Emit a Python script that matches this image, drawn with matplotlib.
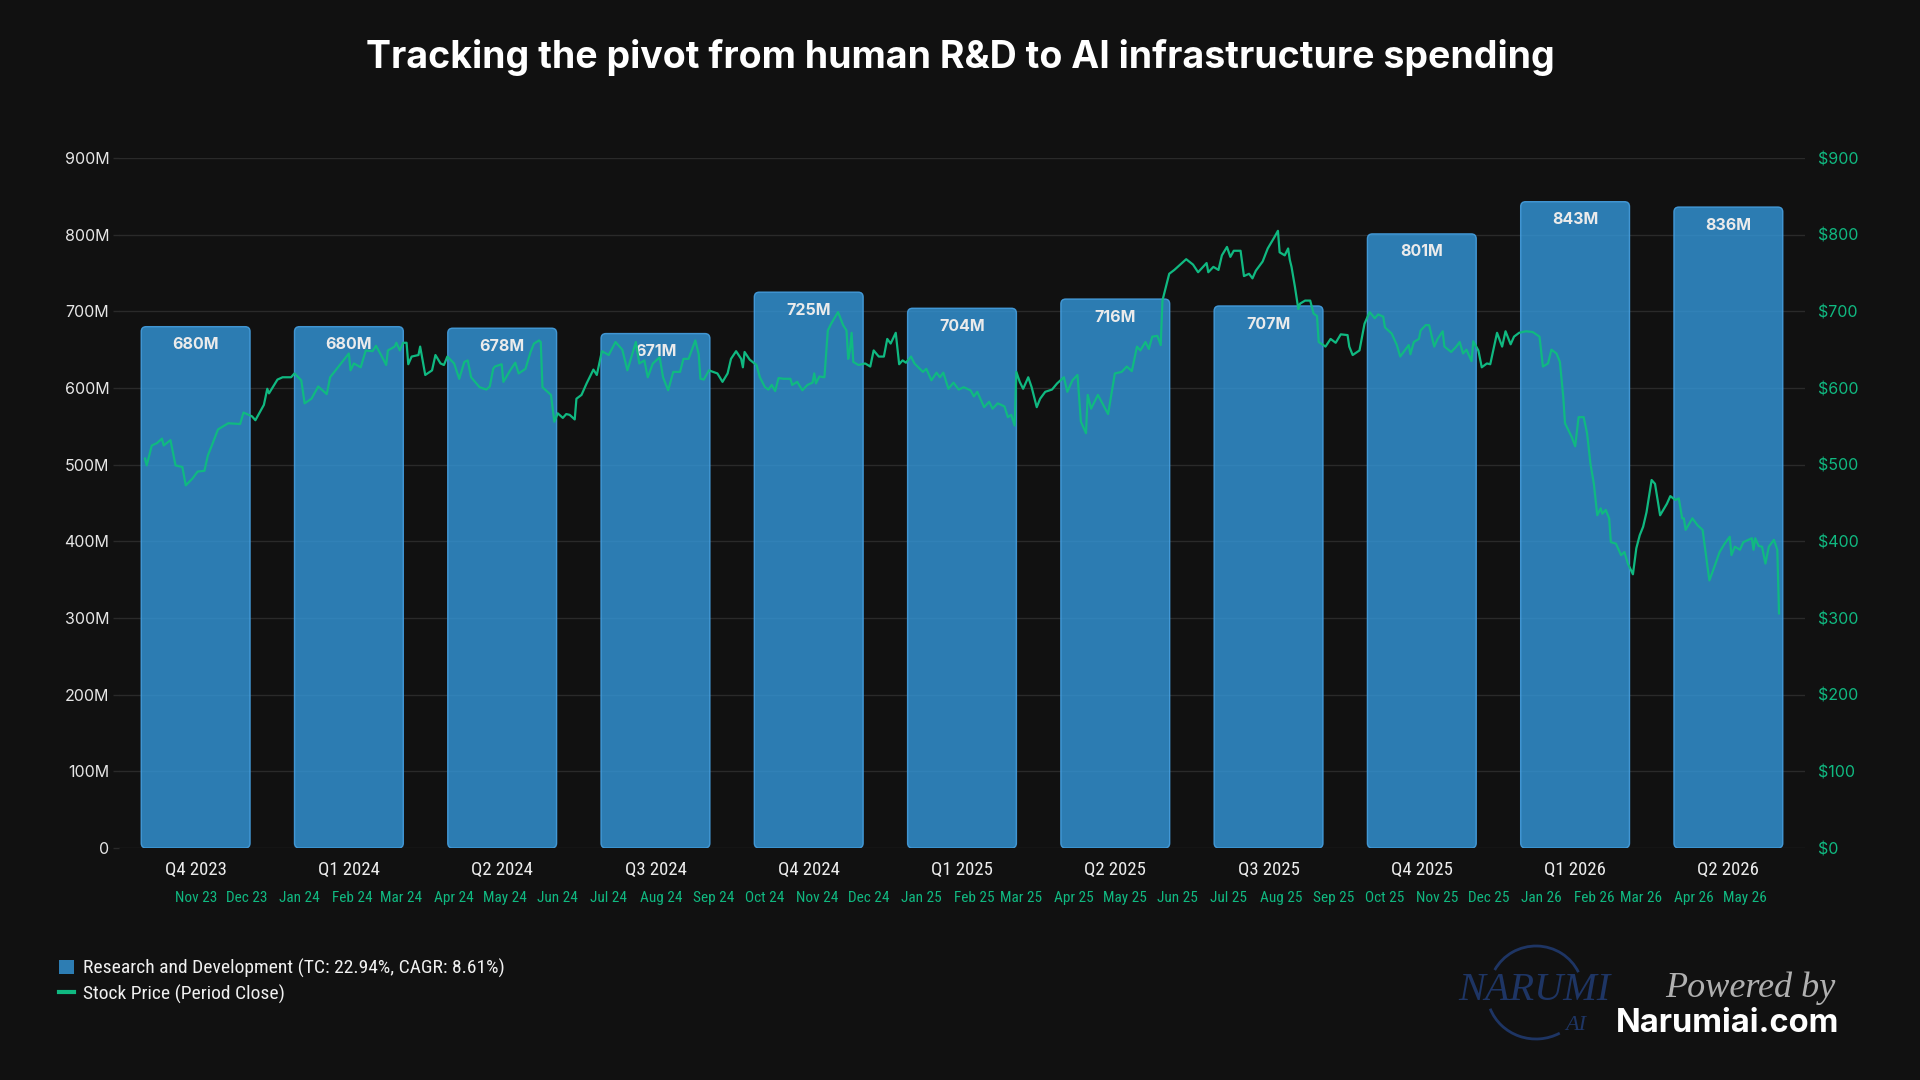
import matplotlib
matplotlib.use("Agg")
import matplotlib.pyplot as plt
import matplotlib.dates as mdates
from matplotlib import font_manager
from matplotlib.patches import FancyBboxPatch, Arc, Rectangle
from matplotlib.lines import Line2D
from matplotlib.ticker import FuncFormatter, MultipleLocator
import pandas as pd

# R&D expense per quarter (millions)
quarters = ["Q4 2023", "Q1 2024", "Q2 2024", "Q3 2024", "Q4 2024", "Q1 2025",
            "Q2 2025", "Q3 2025", "Q4 2025", "Q1 2026", "Q2 2026"]
rd_values = [680, 680, 678, 671, 725, 704, 716, 707, 801, 843, 836]

# stock price
stock_dates = [
    "2023-10-02", "2023-10-03", "2023-10-06", "2023-10-09", "2023-10-12", "2023-10-13",
    "2023-10-17", "2023-10-20", "2023-10-24", "2023-10-26", "2023-10-30", "2023-11-02",
    "2023-11-06", "2023-11-08", "2023-11-10", "2023-11-14", "2023-11-20", "2023-11-27",
    "2023-11-29", "2023-12-04", "2023-12-06", "2023-12-11", "2023-12-13", "2023-12-14",
    "2023-12-19", "2023-12-22", "2023-12-27", "2023-12-29",
    "2024-01-02", "2024-01-04", "2024-01-08", "2024-01-12", "2024-01-17", "2024-01-19",
    "2024-01-24", "2024-01-30", "2024-01-31", "2024-02-02", "2024-02-06", "2024-02-09",
    "2024-02-13", "2024-02-15", "2024-02-18", "2024-02-21", "2024-02-22", "2024-02-26",
    "2024-02-27", "2024-02-29", "2024-03-02", "2024-03-04", "2024-03-05", "2024-03-07",
    "2024-03-11", "2024-03-12", "2024-03-15", "2024-03-19", "2024-03-21", "2024-03-24",
    "2024-03-26", "2024-03-28", "2024-04-01", "2024-04-04", "2024-04-07", "2024-04-09",
    "2024-04-11", "2024-04-16", "2024-04-20", "2024-04-22", "2024-04-24", "2024-04-25",
    "2024-04-29", "2024-04-30", "2024-05-04", "2024-05-07", "2024-05-09", "2024-05-13",
    "2024-05-16", "2024-05-18", "2024-05-21", "2024-05-22", "2024-05-23", "2024-05-28",
    "2024-05-30", "2024-06-01", "2024-06-04", "2024-06-06", "2024-06-08", "2024-06-11",
    "2024-06-12", "2024-06-15", "2024-06-18", "2024-06-22", "2024-06-24", "2024-06-27",
    "2024-07-01", "2024-07-05", "2024-07-09", "2024-07-12", "2024-07-14", "2024-07-17",
    "2024-07-19", "2024-07-22", "2024-07-24", "2024-07-27", "2024-07-31", "2024-08-02",
    "2024-08-05", "2024-08-08", "2024-08-12", "2024-08-14", "2024-08-17", "2024-08-21",
    "2024-08-23", "2024-08-24", "2024-08-26", "2024-08-29", "2024-09-03", "2024-09-06",
    "2024-09-09", "2024-09-11", "2024-09-14", "2024-09-17", "2024-09-18", "2024-09-19",
    "2024-09-22", "2024-09-26", "2024-09-28", "2024-10-01", "2024-10-03", "2024-10-05",
    "2024-10-07", "2024-10-09", "2024-10-12", "2024-10-16", "2024-10-17", "2024-10-20",
    "2024-10-23", "2024-10-26", "2024-10-29", "2024-10-30", "2024-10-31", "2024-11-02",
    "2024-11-05", "2024-11-07", "2024-11-09", "2024-11-13", "2024-11-16", "2024-11-18",
    "2024-11-19", "2024-11-20", "2024-11-21", "2024-11-22", "2024-11-25", "2024-11-29",
    "2024-12-02", "2024-12-04", "2024-12-07", "2024-12-10", "2024-12-12", "2024-12-14",
    "2024-12-17", "2024-12-19", "2024-12-21", "2024-12-23", "2024-12-26", "2024-12-28",
    "2025-01-02", "2025-01-04", "2025-01-07", "2025-01-10", "2025-01-12", "2025-01-14",
    "2025-01-17", "2025-01-20", "2025-01-23", "2025-01-26", "2025-01-30", "2025-02-01",
    "2025-02-03", "2025-02-07", "2025-02-10", "2025-02-12", "2025-02-15", "2025-02-19",
    "2025-02-21", "2025-02-23", "2025-02-25", "2025-02-26", "2025-02-28", "2025-03-02",
    "2025-03-05", "2025-03-07", "2025-03-10", "2025-03-12", "2025-03-15", "2025-03-19",
    "2025-03-22", "2025-03-26", "2025-03-28", "2025-03-31", "2025-04-03", "2025-04-05",
    "2025-04-08", "2025-04-09", "2025-04-11", "2025-04-15", "2025-04-21", "2025-04-25",
    "2025-04-29", "2025-05-02", "2025-05-05", "2025-05-08", "2025-05-10", "2025-05-13",
    "2025-05-15", "2025-05-17", "2025-05-20", "2025-05-22", "2025-05-23", "2025-05-27",
    "2025-05-30", "2025-06-03", "2025-06-06", "2025-06-10", "2025-06-13", "2025-06-18",
    "2025-06-19", "2025-06-22", "2025-06-25", "2025-06-27", "2025-06-30", "2025-07-02",
    "2025-07-04", "2025-07-08", "2025-07-10", "2025-07-13", "2025-07-15", "2025-07-17",
    "2025-07-21", "2025-07-24", "2025-07-28", "2025-07-30", "2025-07-31", "2025-08-03",
    "2025-08-05", "2025-08-06", "2025-08-07", "2025-08-09", "2025-08-11", "2025-08-12",
    "2025-08-15", "2025-08-18", "2025-08-20", "2025-08-22", "2025-08-23", "2025-08-27",
    "2025-08-30", "2025-09-02", "2025-09-05", "2025-09-09", "2025-09-10", "2025-09-12",
    "2025-09-16", "2025-09-19", "2025-09-22", "2025-09-25", "2025-09-27", "2025-09-30",
    "2025-10-01", "2025-10-05", "2025-10-08", "2025-10-10", "2025-10-13", "2025-10-15",
    "2025-10-16", "2025-10-18", "2025-10-21", "2025-10-22", "2025-10-25", "2025-10-27",
    "2025-10-30", "2025-11-01", "2025-11-04", "2025-11-05", "2025-11-09", "2025-11-12",
    "2025-11-14", "2025-11-16", "2025-11-18", "2025-11-21", "2025-11-22", "2025-11-25",
    "2025-11-27", "2025-11-30", "2025-12-02", "2025-12-06", "2025-12-09", "2025-12-11",
    "2025-12-14", "2025-12-16", "2025-12-19", "2025-12-23", "2025-12-27", "2025-12-31",
    "2026-01-02", "2026-01-05", "2026-01-07", "2026-01-10", "2026-01-12", "2026-01-14",
    "2026-01-15", "2026-01-19", "2026-01-21", "2026-01-23", "2026-01-26", "2026-01-28",
    "2026-01-30", "2026-02-01", "2026-02-03", "2026-02-05", "2026-02-06", "2026-02-08",
    "2026-02-10", "2026-02-11", "2026-02-14", "2026-02-17", "2026-02-19", "2026-02-21",
    "2026-02-24", "2026-02-26", "2026-02-28", "2026-03-02", "2026-03-04", "2026-03-07",
    "2026-03-09", "2026-03-12", "2026-03-16", "2026-03-18", "2026-03-21", "2026-03-23",
    "2026-03-25", "2026-03-26", "2026-03-27", "2026-03-31", "2026-04-03", "2026-04-06",
    "2026-04-10", "2026-04-13", "2026-04-16", "2026-04-19", "2026-04-22", "2026-04-23",
    "2026-04-25", "2026-04-28", "2026-04-30", "2026-05-03", "2026-05-05", "2026-05-06",
    "2026-05-07", "2026-05-09", "2026-05-11", "2026-05-13", "2026-05-15", "2026-05-17",
    "2026-05-18", "2026-05-20", "2026-05-21",
]
stock_prices = [
    508, 499, 525, 528, 534, 525, 532, 499, 497, 473, 482, 491,
    492, 512, 523, 546, 554, 553, 568, 563, 558, 578, 599, 593,
    611, 614, 614, 619,
    610, 580, 586, 602, 592, 614, 628, 645, 623, 632, 627, 649,
    648, 655, 643, 630, 649, 654, 659, 649, 659, 659, 631, 641,
    643, 654, 617, 623, 643, 632, 630, 641, 632, 612, 634, 636,
    614, 601, 598, 602, 625, 628, 631, 608, 623, 633, 619, 625,
    647, 658, 662, 660, 601, 591, 556, 567, 561, 566, 565, 559,
    586, 591, 606, 624, 617, 648, 643, 660, 650, 623, 638, 660,
    632, 636, 614, 632, 640, 614, 597, 621, 621, 638, 638, 662,
    644, 612, 611, 623, 619, 608, 619, 638, 648, 638, 627, 647,
    637, 630, 614, 601, 598, 604, 596, 613, 612, 612, 604, 608,
    597, 604, 607, 619, 606, 615, 614, 675, 684, 699, 682, 675,
    638, 649, 672, 634, 630, 632, 628, 649, 641, 641, 664, 658,
    672, 631, 636, 633, 641, 632,
    621, 625, 610, 620, 614, 620, 599, 607, 598, 601, 597, 589,
    595, 575, 582, 573, 580, 576, 562, 565, 551, 621, 608, 599,
    614, 601, 575, 586, 595, 598, 606, 614, 595, 610, 617, 556,
    541, 591, 573, 591, 566, 619, 621, 628, 622, 654, 649, 660,
    651, 667, 668, 656, 714, 749, 754, 762, 768, 761, 751, 763,
    751, 758, 754, 773, 784, 771, 779, 779, 746, 749, 743, 753,
    765, 782, 797, 805, 777, 773, 782, 767, 758, 732, 703, 710,
    714, 714, 697, 694, 660, 654, 664, 659, 670, 669, 654, 643,
    649, 684, 699, 691, 696, 693, 679, 671, 656, 641, 650, 656,
    644, 660, 664, 675, 682, 682, 654, 664, 674, 654, 647, 654,
    660, 645, 650, 635, 661, 649, 627, 632, 631, 672, 654, 674,
    657, 667, 672, 674, 673, 667,
    628, 632, 650, 645, 634, 588, 554, 536, 524, 562, 562, 541,
    501, 475, 434, 443, 436, 441, 430, 399, 397, 382, 386, 371,
    357, 391, 408, 419, 438, 480, 475, 434, 449, 459, 454, 456,
    430, 430, 415, 430, 421, 415, 349, 367, 386, 397, 406, 382,
    393, 389, 399, 402, 404, 389, 404, 394, 393, 371, 393, 399,
    402, 389, 306,
]
month_ticks = pd.date_range("2023-11-01", "2026-05-01", freq="MS")

title = "Tracking the pivot from human R&D to AI infrastructure spending"
legend_labels = ["Research and Development (TC: 22.94%, CAGR: 8.61%)",
                 "Stock Price (Period Close)"]

installed = {f.name for f in font_manager.fontManager.ttflist}


def pick(*names):
    for n in names:
        if n in installed:
            return n
    return "DejaVu Sans"


UI = pick("Inter", "Roboto", "Liberation Sans")
NARROW = pick("Liberation Sans Narrow", "Roboto Condensed", "Liberation Sans")
SERIF = pick("Liberation Serif", "DejaVu Serif")
plt.rcParams["font.family"] = [UI, "DejaVu Sans"]

BG = "#111111"
GRID = "#2a2a2a"
BAR = (52 / 255, 152 / 255, 219 / 255, 0.8)
BAR_EDGE = (70 / 255, 160 / 255, 225 / 255, 0.9)
GREEN = "#10b981"

fig = plt.figure(figsize=(19.2, 10.8), dpi=100, facecolor=BG)
pos = [119 / 1920, 1 - 848 / 1080, (1805 - 119) / 1920, (848 - 158) / 1080]

# bars + left axis
ax = fig.add_axes(pos)
ax.set_facecolor(BG)
xs = list(range(len(quarters)))
ax.set_xlim(-0.5, len(quarters) - 0.5)
ax.set_ylim(0, 900)
ax.yaxis.set_major_locator(MultipleLocator(100))
ax.yaxis.set_major_formatter(FuncFormatter(lambda v, _: "0" if v == 0 else f"{v:.0f}M"))
ax.grid(axis="y", color=GRID, linewidth=1)
ax.set_axisbelow(True)
for s in ax.spines.values():
    s.set_visible(False)
ax.tick_params(axis="y", color=GRID, labelcolor="#e6e6e6", length=4, width=1, pad=3, labelsize=11.5)
ax.tick_params(axis="x", length=0, pad=9, labelcolor="#ececec", labelsize=13.5)
ax.set_xticks(xs)
ax.set_xticklabels(quarters, fontfamily=NARROW)

bars = ax.bar(xs, rd_values, width=0.71, color=BAR, zorder=2)
bb = ax.get_window_extent()
aspect = (bb.width / len(quarters)) / (bb.height / 900)
for r in bars:
    p = FancyBboxPatch((r.get_x(), r.get_y()), r.get_width(), r.get_height(),
                       boxstyle="round,pad=0,rounding_size=0.032", mutation_aspect=aspect,
                       facecolor=BAR, edgecolor=BAR_EDGE, linewidth=1, zorder=2)
    r.remove()
    ax.add_patch(p)
for i, v in zip(xs, rd_values):
    ax.annotate(f"{v}M", (i, v), xytext=(0, -13), textcoords="offset points",
                ha="center", va="center", color="#ebebeb", fontsize=11.5,
                fontweight="bold", zorder=5)

# stock line on its own date axis + right axis
axl = fig.add_axes(pos, facecolor="none")
axl.plot(pd.to_datetime(stock_dates), stock_prices, color=GREEN, linewidth=1.6, zorder=3)
ref = mdates.date2num(pd.Timestamp("2023-11-01"))
axl.set_xlim(ref - 45.3, ref + 947.3)
axl.set_ylim(0, 900)
axl.yaxis.tick_right()
axl.yaxis.set_major_locator(MultipleLocator(100))
axl.yaxis.set_major_formatter(FuncFormatter(lambda v, _: f"${v:.0f}"))
axl.tick_params(axis="y", length=0, pad=9, labelcolor=GREEN, labelsize=11.5)
axl.set_xticks(month_ticks)
axl.xaxis.set_major_formatter(mdates.DateFormatter("%b %y"))
axl.tick_params(axis="x", length=0, pad=31, labelcolor=GREEN, labelsize=11)
for lbl in axl.get_xticklabels():
    lbl.set_fontfamily(NARROW)
for s in axl.spines.values():
    s.set_visible(False)

fig.text(0.5, 1 - 57 / 1080, title, ha="center", va="center", color="white",
         fontsize=27, fontweight="bold")

handles = [Rectangle((0, 0), 1, 1, facecolor=(45 / 255, 125 / 255, 179 / 255)),
           Line2D([], [], color=GREEN, linewidth=3)]
fig.legend(handles, legend_labels, loc="upper left", bbox_to_anchor=(59 / 1920, 1 - 959 / 1080),
           frameon=False, labelcolor="#f0f0f0", prop={"family": NARROW, "size": 14},
           handlelength=0.77, handleheight=0.77, handletextpad=0.47, labelspacing=0.32,
           borderpad=0, borderaxespad=0)

# logo area, pixel coordinates
ov = fig.add_axes([0, 0, 1, 1], facecolor="none")
ov.set_xlim(0, 1920)
ov.set_ylim(0, 1080)
ov.axis("off")
NAVY = "#1e3564"
ov.add_patch(Arc((1536, 1080 - 992), 94, 92, theta1=25, theta2=152, color=NAVY, linewidth=2))
ov.add_patch(Arc((1536, 1080 - 992), 98, 94, theta1=200, theta2=300, color=NAVY, linewidth=2))
ov.text(1534, 1080 - 991, "NARUMI", ha="center", va="center", color=NAVY, fontsize=29,
        family=SERIF, style="italic")
ov.text(1576, 1080 - 1025, "AI", ha="center", va="center", color=NAVY, fontsize=16,
        family=SERIF, style="italic")
ov.text(1750, 1080 - 988, "Powered by", ha="center", va="center", color="#b0b0b0",
        fontsize=26, family=SERIF, style="italic")
ov.text(1728, 1080 - 1023, "Narumiai.com", ha="center", va="center", color="white",
        fontsize=23.5, fontweight="bold")

fig.savefig("out.png", dpi=100, facecolor=BG)
